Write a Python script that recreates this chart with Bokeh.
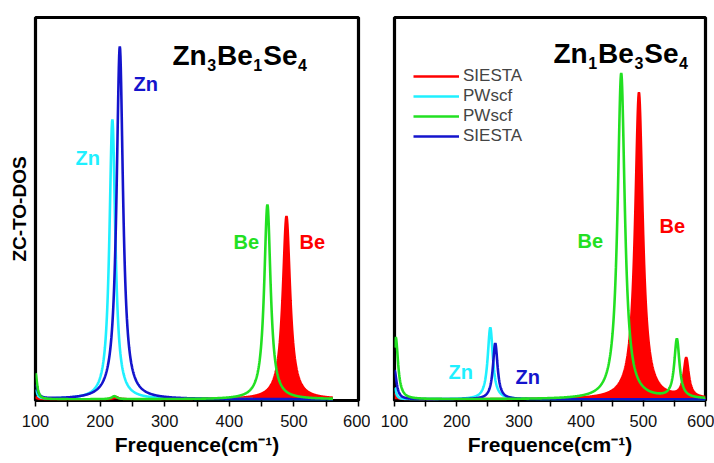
import numpy as np
from bokeh.plotting import figure
from bokeh.layouts import row
from bokeh.models import Label, Legend, LegendItem, Range1d, FixedTicker
from bokeh.embed import file_html
from bokeh.resources import INLINE

# ---- colours of the four calculations ----
RED = "#ff0000"      # SIESTA, Be modes (filled)
CYAN = "#1ff0ff"     # PWscf, Zn modes
GREEN = "#22e022"    # PWscf, Be modes
BLUE = "#1414cc"     # SIESTA, Zn modes

# ---- axis ticks (cm^-1) ----
tick_values = [100, 200, 300, 400, 500, 600]
minor_tick_values = [150, 250, 350, 450, 550]

# ---- Zn3Be1Se4: TO-mode frequency (cm^-1), peak intensity, half width ----
zbs31_siesta_be_freq = [100, 225, 488.5]
zbs31_siesta_be_amp = [0.6, 0.6, 48.0]
zbs31_siesta_be_hw = [3, 4, 7]

zbs31_pwscf_zn_freq = [100, 219]
zbs31_pwscf_zn_amp = [2.4, 73.3]
zbs31_pwscf_zn_hw = [3, 5.5]

zbs31_pwscf_be_freq = [100, 222, 459]
zbs31_pwscf_be_amp = [6.8, 0.8, 51.0]
zbs31_pwscf_be_hw = [3, 5, 6]

zbs31_siesta_zn_freq = [100, 230.5]
zbs31_siesta_zn_amp = [3.7, 92.4]
zbs31_siesta_zn_hw = [4, 6]

# ---- Zn1Be3Se4 ----
zbs13_siesta_be_freq = [100, 493, 569]
zbs13_siesta_be_amp = [1.6, 80.4, 10.2]
zbs13_siesta_be_hw = [3, 7.5, 5]

zbs13_pwscf_zn_freq = [100, 254]
zbs13_pwscf_zn_amp = [3.0, 18.8]
zbs13_pwscf_zn_hw = [3, 5]

zbs13_pwscf_be_freq = [102, 464.5, 554]
zbs13_pwscf_be_amp = [16.2, 85.4, 15.4]
zbs13_pwscf_be_hw = [4.5, 7, 5]

zbs13_siesta_zn_freq = [100, 262]
zbs13_siesta_zn_amp = [7.6, 14.7]
zbs13_siesta_zn_hw = [4, 4.5]

# frequency grids on which each DOS was evaluated
grid_31 = np.arange(100.0, 561.0, 0.5)
grid_13 = np.arange(100.0, 600.5, 0.5)


def broadened(grid, freqs, amps, widths):
    """Lorentzian-broadened density of states from a list of modes."""
    out = np.zeros_like(grid)
    for f0, a, g in zip(freqs, amps, widths):
        out += a * g * g / ((grid - f0) ** 2 + g * g)
    return out


FONT = "Liberation Sans"


def make_panel(border_left, frame_w, border_right, with_ylabel):
    p = figure(width=border_left + frame_w + border_right, height=463,
               frame_width=frame_w, frame_height=383,
               min_border_left=border_left, min_border_right=border_right,
               min_border_top=17, min_border_bottom=63,
               x_range=Range1d(100, 600), y_range=Range1d(-0.3, 100),
               y_axis_location="left" if with_ylabel else None,
               toolbar_location=None,
               output_backend="svg", background_fill_color="white",
               border_fill_color="white")
    p.grid.visible = False
    p.outline_line_color = "black"
    p.outline_line_width = 3.2
    ax = p.xaxis[0]
    ax.ticker = FixedTicker(ticks=tick_values, minor_ticks=minor_tick_values)
    ax.axis_line_color = None
    ax.major_tick_in = 0
    ax.major_tick_out = 6
    ax.minor_tick_in = 0
    ax.minor_tick_out = 6
    ax.major_tick_line_width = 1.5
    ax.minor_tick_line_width = 1.5
    ax.major_tick_line_color = "black"
    ax.minor_tick_line_color = "black"
    ax.major_label_text_font = FONT
    ax.major_label_text_font_size = "16.5px"
    ax.major_label_text_color = "#111111"
    ax.major_label_standoff = 8
    ax.axis_label = "Frequence(cm\u207b\u00b9)"
    ax.axis_label_text_font = FONT
    ax.axis_label_text_font_style = "bold"
    ax.axis_label_text_font_size = "21px"
    ax.axis_label_text_color = "black"
    ax.axis_label_standoff = 3
    if with_ylabel:
        ay = p.yaxis[0]
        ay.ticker = FixedTicker(ticks=[])
        ay.axis_line_color = None
        ay.major_tick_out = 0
        ay.major_tick_in = 0
        ay.minor_tick_out = 0
        ay.minor_tick_in = 0
        ay.major_label_text_font_size = "0px"
        ay.major_label_standoff = 0
        ay.axis_label = "ZC-TO-DOS"
        ay.axis_label_text_font = FONT
        ay.axis_label_text_font_style = "bold"
        ay.axis_label_text_font_size = "19px"
        ay.axis_label_text_color = "black"
        ay.axis_label_standoff = 6
    return p


def text(p, x, y, s, size, color="black", dx=0):
    p.add_layout(Label(x=x, y=y, text=s, x_offset=dx,
                       text_font=FONT, text_font_size=f"{size}px",
                       text_font_style="bold", text_color=color,
                       text_align="left", text_baseline="alphabetic"))


PX_PER_UNIT = 383 / 100.3   # vertical scale of both frames


def formula(p, x, y, parts):
    """Chemical formula with subscripts: parts = [(symbol, index), ...]."""
    dx = 0.0
    for sym, idx in parts:
        text(p, x, y, sym, 28, dx=dx)
        w = sum(722 if c == "B" else 611 if c in "Zn" else 667 if c == "S" else 556 for c in sym) * 0.028
        dx += w + 0.5
        text(p, x, y - 10 / PX_PER_UNIT, idx, 16, dx=dx)
        dx += 9.9


def draw(p, grid, series):
    (rf, ra, rw), (cf, ca, cw), (gf, ga, gw), (bf, ba, bw) = series
    red = broadened(grid, rf, ra, rw)
    p.varea(x=grid, y1=0, y2=red, fill_color=RED)
    r_red = p.line(grid, red, line_color=RED, line_width=2.4)
    r_cyan = p.line(grid, broadened(grid, cf, ca, cw), line_color=CYAN, line_width=2.6)
    r_blue = p.line(grid, broadened(grid, bf, ba, bw), line_color=BLUE, line_width=2.6)
    r_green = p.line(grid, broadened(grid, gf, ga, gw), line_color=GREEN, line_width=2.6)
    return r_red, r_cyan, r_green, r_blue


# ---------------- Zn3Be1Se4 ----------------
left = make_panel(35, 323, 12, True)
draw(left, grid_31, [
    (zbs31_siesta_be_freq, zbs31_siesta_be_amp, zbs31_siesta_be_hw),
    (zbs31_pwscf_zn_freq, zbs31_pwscf_zn_amp, zbs31_pwscf_zn_hw),
    (zbs31_pwscf_be_freq, zbs31_pwscf_be_amp, zbs31_pwscf_be_hw),
    (zbs31_siesta_zn_freq, zbs31_siesta_zn_amp, zbs31_siesta_zn_hw),
])
formula(left, 312, 90.1, [("Zn", "3"), ("Be", "1"), ("Se", "4")])
text(left, 162, 63.1, "Zn", 20, CYAN)
text(left, 251.7, 82.7, "Zn", 20, BLUE)
text(left, 406.5, 41.1, "Be", 20, GREEN)
text(left, 508.7, 41.1, "Be", 20, RED)

# ---------------- Zn1Be3Se4 ----------------
right = make_panel(24, 311, 9, False)
r_red, r_cyan, r_green, r_blue = draw(right, grid_13, [
    (zbs13_siesta_be_freq, zbs13_siesta_be_amp, zbs13_siesta_be_hw),
    (zbs13_pwscf_zn_freq, zbs13_pwscf_zn_amp, zbs13_pwscf_zn_hw),
    (zbs13_pwscf_be_freq, zbs13_pwscf_be_amp, zbs13_pwscf_be_hw),
    (zbs13_siesta_zn_freq, zbs13_siesta_zn_amp, zbs13_siesta_zn_hw),
])
formula(right, 355.6, 90.6, [("Zn", "1"), ("Be", "3"), ("Se", "4")])
text(right, 186.8, 7.1, "Zn", 20, CYAN)
text(right, 294.5, 5.8, "Zn", 20, BLUE)
text(right, 394.2, 41.6, "Be", 20, GREEN)
text(right, 526.0, 45.3, "Be", 20, RED)

legend = Legend(items=[
    LegendItem(label="SIESTA", renderers=[r_red]),
    LegendItem(label="PWscf", renderers=[r_cyan]),
    LegendItem(label="PWscf", renderers=[r_green]),
    LegendItem(label="SIESTA", renderers=[r_blue]),
], location=(19, 254), glyph_width=46, glyph_height=20, label_height=20,
    label_standoff=4, spacing=0, padding=0, margin=0,
    border_line_alpha=0, background_fill_alpha=0,
    label_text_font=FONT, label_text_font_size="17px")
right.add_layout(legend)

layout = row(left, right, spacing=0)
open("out.html", "w").write(file_html(layout, INLINE))
